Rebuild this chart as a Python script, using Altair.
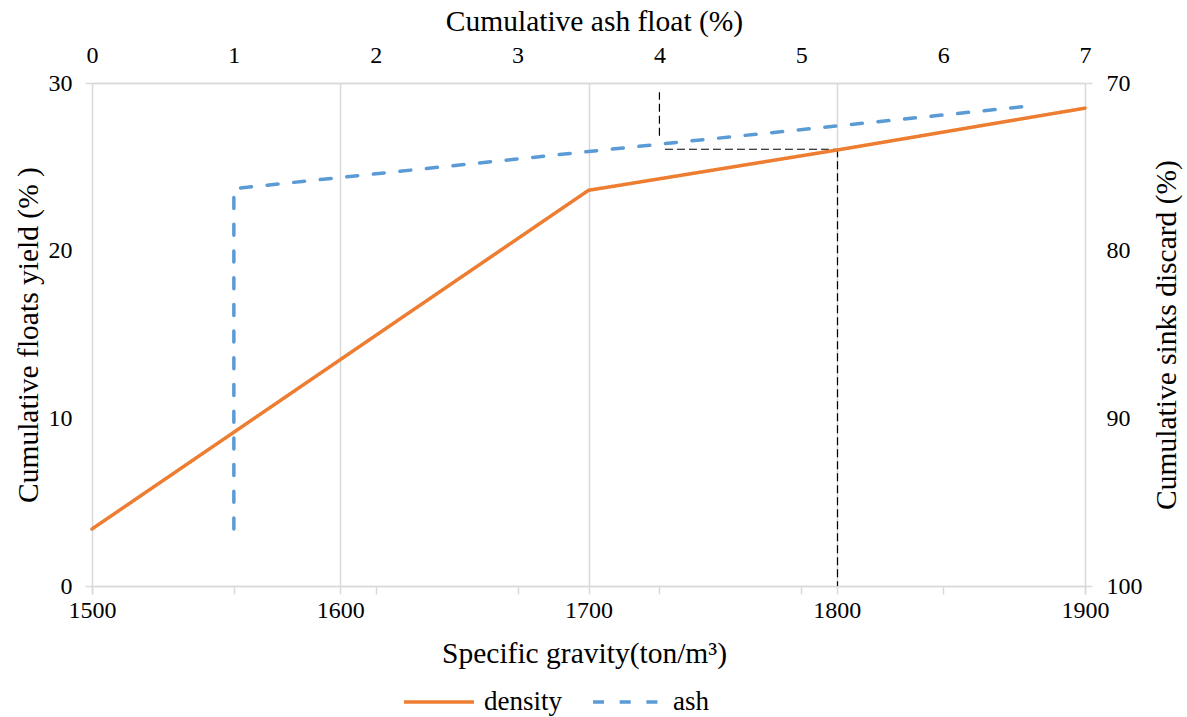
import altair as alt
import pandas as pd

# ---- data ----
sg = [1500, 1700, 1800, 1900]
density_yield = [3.4, 23.6, 26.0, 28.5]

ash_float = [1.0, 1.0, 3.6, 6.58]
ash_yield = [3.4, 23.7, 26.0, 28.6]

# dashed black guide lines
guide_ash_x = [4.0]
guide_ash_y = [26.85]
guide_ash_y2 = [29.45]

guide_sg_x = [1730.8, 1800.3]
guide_sg_x2 = [1800.3, 1800.3]
guide_sg_y = [26.05, 26.05]
guide_sg_y2 = [26.05, 0.0]

sg_ticks = [1500, 1600, 1700, 1800, 1900]
ash_ticks = [0, 1, 2, 3, 4, 5, 6, 7]
yield_ticks = [0, 10, 20, 30]

series_names = ["density", "ash"]
series_colors = ["#ED7D31", "#5B9BD5"]
series_dash = [[1, 0], [11, 15.7]]

FONT = "Times New Roman, Liberation Serif, DejaVu Serif, serif"
GRID = "#D9D9D9"
TICK_FS = 24
TITLE_FS = 29.5

df_d = pd.DataFrame({"sg": sg, "yield": density_yield, "series": "density"})
df_a = pd.DataFrame({"ash": ash_float, "yield": ash_yield, "series": "ash"})
df_ga = pd.DataFrame({"x": guide_ash_x, "y": guide_ash_y, "y2": guide_ash_y2})
df_gs = pd.DataFrame({"x": guide_sg_x, "x2": guide_sg_x2, "y": guide_sg_y, "y2": guide_sg_y2})

y_scale = alt.Scale(domain=[0, 30], nice=False, zero=False)
legend = alt.Legend(title=None, orient="none", direction="horizontal", legendX=310, legendY=582)
color = alt.Color(
    "series:N",
    scale=alt.Scale(domain=series_names, range=series_colors),
    legend=legend,
)
dash = alt.StrokeDash(
    "series:N",
    scale=alt.Scale(domain=series_names, range=series_dash),
    legend=legend,
)

lab = dict(labelFont=FONT, labelFontSize=TICK_FS, labelColor="black",
           titleFont=FONT, titleFontSize=TITLE_FS, titleColor="black", titleFontWeight="normal")

density = alt.Chart(df_d).mark_line(strokeWidth=3.5, strokeCap="round").encode(
    x=alt.X(
        "sg:Q",
        scale=alt.Scale(domain=[1500, 1900], nice=False, zero=False),
        axis=alt.Axis(
            orient="bottom", values=sg_ticks, format="d", title="Specific gravity(ton/m³)",
            grid=True, gridColor=GRID, gridWidth=1.5,
            domainColor=GRID, domainWidth=1.5,
            tickColor=GRID, tickWidth=1.5, tickSize=8,
            labelPadding=4, labelFlush=False, titlePadding=17, titleX=492, **lab,
        ),
    ),
    y=alt.Y(
        "yield:Q", scale=y_scale,
        axis=alt.Axis(
            orient="left", values=yield_ticks, title="Cumulative floats yield (% )",
            grid=False, domain=False, ticks=False, labelPadding=20, titlePadding=5, **lab,
        ),
    ),
    color=color,
    strokeDash=dash,
)

ash = alt.Chart(df_a).mark_line(strokeWidth=3.5, strokeCap="round").encode(
    x=alt.X(
        "ash:Q",
        scale=alt.Scale(domain=[0, 7], nice=False, zero=False),
        axis=alt.Axis(
            orient="top", values=ash_ticks, format="d", title="Cumulative ash float (%)",
            grid=False, ticks=False, domainColor=GRID, domainWidth=1.5,
            labelPadding=16, labelFlush=False, titlePadding=7, titleX=502, **lab,
        ),
    ),
    y=alt.Y(
        "yield:Q", scale=y_scale,
        axis=alt.Axis(
            orient="right", values=yield_ticks, labelExpr="100 - datum.value",
            title="Cumulative sinks discard (%)", titleAngle=270,
            grid=False, domain=False, ticks=False, labelPadding=21, titlePadding=39, **lab,
        ),
    ),
    color=color,
    strokeDash=dash,
)

guide_ash = alt.Chart(df_ga).mark_rule(color="black", strokeWidth=1.2, strokeDash=[8, 4]).encode(
    x=alt.X(
        "x:Q",
        scale=alt.Scale(domain=[0, 7], nice=False, zero=False),
        axis=alt.Axis(
            orient="bottom", values=ash_ticks, labels=False, domain=False, grid=False,
            ticks=True, tickColor=GRID, tickWidth=1.5, tickSize=8, title=None,
        ),
    ),
    y=alt.Y(
        "y:Q", scale=y_scale,
        axis=alt.Axis(
            orient="left", values=[0, 30], labels=False, domain=False,
            grid=True, gridColor=GRID, gridWidth=1.5,
            ticks=True, tickColor=GRID, tickWidth=1.5, tickSize=7, title=None,
        ),
    ),
    y2="y2:Q",
)

guide_sg = alt.Chart(df_gs).mark_rule(color="black", strokeWidth=1.2, strokeDash=[8, 4]).encode(
    x=alt.X("x:Q", scale=alt.Scale(domain=[1500, 1900], nice=False, zero=False), axis=None),
    x2="x2:Q",
    y=alt.Y(
        "y:Q", scale=y_scale,
        axis=alt.Axis(
            orient="right", values=[0, 30], labels=False, domain=False, grid=False,
            ticks=True, tickColor=GRID, tickWidth=1.5, tickSize=7, title=None,
        ),
    ),
    y2="y2:Q",
)

chart = (
    alt.layer(guide_ash, guide_sg, ash, density)
    .resolve_scale(x="independent")
    .resolve_axis(y="independent")
    .properties(
        width=993, height=503,
        autosize=alt.AutoSizeParams(type="none"),
        padding={"left": 92, "top": 83, "right": 102, "bottom": 131},
        background="white",
    )
    .configure(font=FONT)
    .configure_view(stroke=None)
    .configure_legend(
        labelFont=FONT, labelFontSize=27, labelColor="black",
        symbolType="stroke", symbolSize=4900, symbolStrokeWidth=3.5,
        columnPadding=24, labelOffset=8,
    )
)

chart.save("out.html", embed_options={"renderer": "svg", "actions": False})
